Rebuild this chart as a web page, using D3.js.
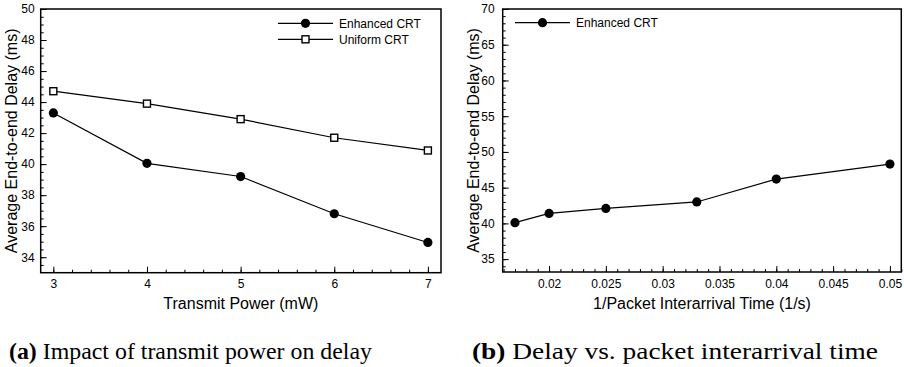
<!DOCTYPE html>
<html>
<head>
<meta charset="utf-8">
<script src="https://cdn.jsdelivr.net/npm/d3@7"></script>
<style>
  body { margin: 0; background: #fff; }
  svg { display: block; }
  .tick text { font-family: "Liberation Sans", Arial, sans-serif; font-size: 12px; fill: #000; }
  .tick line { stroke: #000; stroke-width: 1; }
</style>
</head>
<body>
<div id="chart"></div>
<script>
// data for panel (a)
var powerLevels = [3, 4, 5, 6, 7];
var enhancedDelayA = [43.3, 40.05, 39.2, 36.8, 34.95];
var uniformDelayA = [44.7, 43.9, 42.9, 41.7, 40.88];
var yTicksA = [34, 36, 38, 40, 42, 44, 46, 48, 50];

// data for panel (b)
var arrivalRates = [0.017, 0.02, 0.025, 0.033, 0.04, 0.05];
var enhancedDelayB = [40.1, 41.4, 42.1, 43.0, 46.2, 48.3];
var xTicksB = [0.02, 0.025, 0.03, 0.035, 0.04, 0.045, 0.05];
var yTicksB = [35, 40, 45, 50, 55, 60, 65, 70];

var svgWidth = 904, svgHeight = 367;
var sans = "'Liberation Sans', Arial, sans-serif";
var serif = "'Liberation Serif', 'Times New Roman', serif";

var svg = d3.select("#chart")
  .append("svg")
    .attr("width", svgWidth)
    .attr("height", svgHeight);

// draws a framed panel with inward ticks, returns the scales
function drawPanel(opt) {
  var g = svg.append("g")
      .attr("transform", "translate(" + opt.left + "," + opt.top + ")");

  var x = d3.scaleLinear().domain(opt.xDomain).range([0, opt.width]);
  var y = d3.scaleLinear().domain(opt.yDomain).range([opt.height, 0]);

  // minor ticks
  g.append("g")
      .attr("transform", "translate(0," + opt.height + ")")
      .call(d3.axisBottom(x).tickValues(opt.xMinor).tickSize(-3).tickSizeOuter(0).tickFormat(""))
      .call(function(a) { a.select(".domain").remove(); });
  g.append("g")
      .call(d3.axisLeft(y).tickValues(opt.yMinor).tickSize(-3).tickSizeOuter(0).tickFormat(""))
      .call(function(a) { a.select(".domain").remove(); });

  // major ticks with labels
  g.append("g")
      .attr("transform", "translate(0," + opt.height + ")")
      .call(d3.axisBottom(x).tickValues(opt.xTicks).tickSize(-6).tickSizeOuter(0)
        .tickPadding(7).tickFormat(function(d) { return String(d); }))
      .call(function(a) { a.select(".domain").remove(); });
  g.append("g")
      .call(d3.axisLeft(y).tickValues(opt.yTicks).tickSize(-6).tickSizeOuter(0)
        .tickPadding(opt.yPad).tickFormat(function(d) { return String(d); }))
      .call(function(a) { a.select(".domain").remove(); });

  // frame
  g.append("rect")
      .attr("width", opt.width)
      .attr("height", opt.height)
      .attr("fill", "none")
      .attr("stroke", "#000")
      .attr("stroke-width", 1.5);

  // axis titles
  g.append("text")
      .attr("text-anchor", "middle")
      .attr("x", opt.width / 2)
      .attr("y", opt.height + 36.5)
      .style("font-family", sans)
      .style("font-size", "16px")
      .text(opt.xTitle);

  g.append("text")
      .attr("text-anchor", "middle")
      .attr("transform", "translate(" + opt.yTitleX + "," + (opt.height / 2) + ")rotate(-90)")
      .attr("dy", "0.35em")
      .style("font-family", sans)
      .style("font-size", "16px")
      .text("Average End-to-end Delay (ms)");

  return {g: g, x: x, y: y};
}

function drawSeries(p, xs, ys, marker) {
  var pts = xs.map(function(v, i) { return [v, ys[i]]; });
  var line = d3.line()
      .x(function(d) { return p.x(d[0]); })
      .y(function(d) { return p.y(d[1]); });
  p.g.append("path")
      .datum(pts)
      .attr("fill", "none")
      .attr("stroke", "#000")
      .attr("stroke-width", 1.2)
      .attr("d", line);
  drawMarkers(p.g, pts.map(function(d) { return [p.x(d[0]), p.y(d[1])]; }), marker);
}

function drawMarkers(g, pts, marker) {
  if (marker === "circle") {
    g.selectAll(null).data(pts).enter().append("circle")
        .attr("cx", function(d) { return d[0]; })
        .attr("cy", function(d) { return d[1]; })
        .attr("r", 4.6)
        .attr("fill", "#000");
  } else {
    g.selectAll(null).data(pts).enter().append("rect")
        .attr("x", function(d) { return d[0] - 3.5; })
        .attr("y", function(d) { return d[1] - 3.5; })
        .attr("width", 7)
        .attr("height", 7)
        .attr("fill", "#fff")
        .attr("stroke", "#000")
        .attr("stroke-width", 1.4);
  }
}

function legendItem(g, x0, x1, y, marker, label) {
  g.append("line")
      .attr("x1", x0).attr("x2", x1)
      .attr("y1", y).attr("y2", y)
      .attr("stroke", "#000")
      .attr("stroke-width", 1.2);
  drawMarkers(g, [[(x0 + x1) / 2, y]], marker);
  g.append("text")
      .attr("x", x1 + 6)
      .attr("y", y)
      .attr("dy", "0.36em")
      .style("font-family", sans)
      .style("font-size", "12px")
      .text(label);
}

//////////////////////////// PANEL (a)
var pA = drawPanel({
  left: 40.7, top: 9, width: 400.3, height: 263.7,
  xDomain: [2.865, 7.14], yDomain: [33, 50],
  xTicks: powerLevels, xMinor: d3.range(15, 36).map(function(v) { return v / 5; }),
  yTicks: yTicksA, yMinor: d3.range(67, 101).map(function(v) { return v / 2; }),
  yPad: 6, yTitleX: -29,
  xTitle: "Transmit Power (mW)"
});
drawSeries(pA, powerLevels, enhancedDelayA, "circle");
drawSeries(pA, powerLevels, uniformDelayA, "square");
legendItem(svg, 278, 333, 23.3, "circle", "Enhanced CRT");
legendItem(svg, 278, 333, 39.3, "square", "Uniform CRT");

//////////////////////////// PANEL (b)
var pB = drawPanel({
  left: 502.7, top: 9, width: 398.6, height: 263,
  xDomain: [0.01592, 0.051], yDomain: [33.2, 70],
  xTicks: xTicksB, xMinor: d3.range(16, 52).map(function(v) { return v / 1000; }),
  yTicks: yTicksB, yMinor: d3.range(34, 71),
  yPad: 8, yTitleX: -29.4,
  xTitle: "1/Packet Interarrival Time (1/s)"
});
drawSeries(pB, arrivalRates, enhancedDelayB, "circle");
legendItem(svg, 515, 570, 22.7, "circle", "Enhanced CRT");

//////////////////////////// captions
function caption(x, label, rest, len) {
  var t = svg.append("text")
      .attr("x", x)
      .attr("y", 359)
      .attr("textLength", len)
      .attr("lengthAdjust", "spacingAndGlyphs")
      .style("font-family", serif)
      .style("font-size", "23px");
  t.append("tspan").style("font-weight", "bold").text(label);
  t.append("tspan").text(" " + rest);
}
caption(9, "(a)", "Impact of transmit power on delay", 363);
caption(472, "(b)", "Delay vs. packet interarrival time", 406);
</script>
</body>
</html>
